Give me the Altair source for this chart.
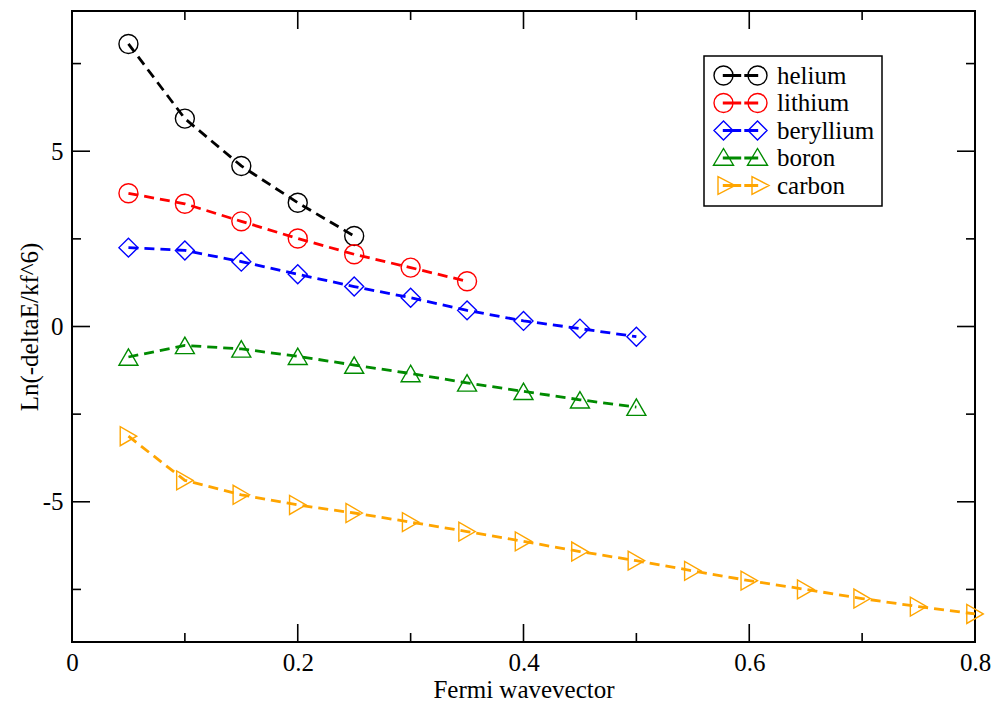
import altair as alt
import pandas as pd

# ---- data ----
series_names = ["helium", "lithium", "beryllium", "boron", "carbon"]
series_colors = ["#000000", "#ff0000", "#0000ff", "#008b00", "#ffa500"]
point_shapes = ["circle", "circle", "diamond", "triangle-up", "triangle-right"]

x_helium = [0.05, 0.10, 0.15, 0.20, 0.25]
y_helium = [8.06, 5.93, 4.58, 3.53, 2.58]

x_lithium = [0.05, 0.10, 0.15, 0.20, 0.25, 0.30, 0.35]
y_lithium = [3.80, 3.50, 3.00, 2.51, 2.06, 1.68, 1.29]

x_beryllium = [0.05, 0.10, 0.15, 0.20, 0.25, 0.30, 0.35, 0.40, 0.45, 0.50]
y_beryllium = [2.25, 2.17, 1.85, 1.49, 1.14, 0.82, 0.46, 0.16, -0.06, -0.29]

x_boron = [0.05, 0.10, 0.15, 0.20, 0.25, 0.30, 0.35, 0.40, 0.45, 0.50]
y_boron = [-0.87, -0.54, -0.64, -0.85, -1.10, -1.34, -1.61, -1.85, -2.09, -2.30]

x_carbon = [0.05, 0.10, 0.15, 0.20, 0.25, 0.30, 0.35, 0.40,
            0.45, 0.50, 0.55, 0.60, 0.65, 0.70, 0.75, 0.80]
y_carbon = [-3.13, -4.39, -4.80, -5.09, -5.32, -5.58, -5.85, -6.13,
            -6.42, -6.68, -6.97, -7.25, -7.50, -7.76, -7.99, -8.20]

x_major_ticks = [0, 0.2, 0.4, 0.6, 0.8]
x_minor_ticks = [0.1, 0.3, 0.5, 0.7]
y_major_ticks = [-5, 0, 5]
y_minor_ticks = [-7.5, -2.5, 2.5, 7.5]

x_title = "Fermi wavevector"
y_title = "Ln(-deltaE/kf^6)"

# ---- build table ----
rows = []
for name, xs, ys in [("helium", x_helium, y_helium), ("lithium", x_lithium, y_lithium),
                     ("beryllium", x_beryllium, y_beryllium), ("boron", x_boron, y_boron),
                     ("carbon", x_carbon, y_carbon)]:
    for xv, yv in zip(xs, ys):
        rows.append({"series": name, "x": xv, "y": yv})
df = pd.DataFrame(rows)

W, H = 903, 631
FONT = "Liberation Serif"

xscale = alt.Scale(domain=[0, 0.8], nice=False, zero=False)
yscale = alt.Scale(domain=[-9, 9], nice=False, zero=False)
cscale = alt.Scale(domain=series_names, range=series_colors)

x_axis = alt.Axis(title=x_title, values=x_major_ticks, ticks=False, tickSize=0,
                  domain=False, grid=False, labelExpr="'' + datum.value",
                  labelFlush=False,
                  labelFont=FONT, labelFontSize=25, labelPadding=28,
                  labelBaseline="alphabetic", labelColor="black",
                  titleFont=FONT, titleFontSize=25, titleFontWeight="normal",
                  titleY=55, titleBaseline="alphabetic", titleColor="black")
y_axis = alt.Axis(title=y_title, values=y_major_ticks, ticks=False, tickSize=0,
                  domain=False, grid=False, labelExpr="'' + datum.value",
                  labelFlush=False,
                  labelFont=FONT, labelFontSize=25, labelPadding=9,
                  labelColor="black",
                  titleFont=FONT, titleFontSize=25, titleFontWeight="normal",
                  titleX=-35, titleY=H / 2, titleBaseline="alphabetic",
                  titleColor="black")


# ---- legend symbol paths (marker - line - marker) ----
def circ(c, r=0.95):
    return f"M{c + r},0 A{r},{r} 0 1,0 {c - r},0 A{r},{r} 0 1,0 {c + r},0 Z "


def diam(c, r=0.95):
    return f"M{c},{-r} L{c + r},0 L{c},{r} L{c - r},0 Z "


def tri_up(c):
    return f"M{c},-0.95 L{c + 1.0},0.72 L{c - 1.0},0.72 Z "


def tri_right(c):
    return f"M{c - 0.55},-0.88 L{c + 1.15},0 L{c - 0.55},0.88 Z "


def seg():
    h = 0.07
    return (f"M-1.7,{-h} L0,{-h} L0,{h} L-1.7,{h} Z "
            f"M0.45,{-h} L1.7,{-h} L1.7,{h} L0.45,{h} Z")


legend_paths = [circ(-1.7) + circ(1.7) + seg(),
                circ(-1.7) + circ(1.7) + seg(),
                diam(-1.7) + diam(1.7) + seg(),
                tri_up(-1.7) + tri_up(1.7) + seg(),
                tri_right(-1.7) + tri_right(1.7) + seg()]

base = alt.Chart(df)

lines = base.mark_line(strokeDash=[10, 6], strokeWidth=2.8).encode(
    x=alt.X("x:Q", scale=xscale, axis=x_axis),
    y=alt.Y("y:Q", scale=yscale, axis=y_axis),
    color=alt.Color("series:N", scale=cscale, legend=None),
    detail="series:N",
    order="x:Q",
)

points = base.mark_point(filled=False, size=360, strokeWidth=1.4, opacity=1).encode(
    x=alt.X("x:Q", scale=xscale, axis=x_axis),
    y=alt.Y("y:Q", scale=yscale, axis=y_axis),
    color=alt.Color("series:N", scale=cscale, legend=None),
    shape=alt.Shape("series:N", scale=alt.Scale(domain=series_names, range=point_shapes),
                    legend=None),
)

legend_layer = base.transform_filter("false").mark_point(
    filled=False, strokeWidth=1.4, opacity=1).encode(
    x=alt.X("x:Q", scale=xscale, axis=x_axis),
    y=alt.Y("y:Q", scale=yscale, axis=y_axis),
    color=alt.Color("series:N", scale=cscale, legend=None),
    shape=alt.Shape("series:N", scale=alt.Scale(domain=series_names, range=legend_paths),
                    legend=alt.Legend(
                        title=None, orient="none", legendX=632, legendY=45,
                        symbolSize=400, symbolStrokeWidth=1.4,
                        symbolFillColor="transparent",
                        symbolStrokeColor=alt.ExprRef(expr="scale('color', datum.value)"))),
)

# inward tick marks on all four sides
xmaj = pd.DataFrame({"x": x_major_ticks})
xmin = pd.DataFrame({"x": x_minor_ticks})
ymaj = pd.DataFrame({"y": y_major_ticks})
ymin = pd.DataFrame({"y": y_minor_ticks})


def xticks(d, length):
    enc_x = alt.X("x:Q", scale=xscale, axis=x_axis)
    bottom = alt.Chart(d).mark_rule(color="black", strokeWidth=1.6).encode(
        x=enc_x, y=alt.value(H), y2=alt.value(H - length))
    top = alt.Chart(d).mark_rule(color="black", strokeWidth=1.6).encode(
        x=enc_x, y=alt.value(0), y2=alt.value(length))
    return [bottom, top]


def yticks(d, length):
    enc_y = alt.Y("y:Q", scale=yscale, axis=y_axis)
    left = alt.Chart(d).mark_rule(color="black", strokeWidth=1.6).encode(
        y=enc_y, x=alt.value(0), x2=alt.value(length))
    right = alt.Chart(d).mark_rule(color="black", strokeWidth=1.6).encode(
        y=enc_y, x=alt.value(W), x2=alt.value(W - length))
    return [left, right]


tick_layers = xticks(xmaj, 18) + xticks(xmin, 9) + yticks(ymaj, 18) + yticks(ymin, 9)

chart = alt.layer(lines, points, legend_layer, *tick_layers).resolve_scale(
    shape="independent"
).properties(
    width=W, height=H,
    autosize=alt.AutoSizeParams(type="none"),
    padding={"left": 72, "top": 11, "right": 20, "bottom": 60},
    background="white",
).configure_view(
    stroke="black", strokeWidth=2
).configure_legend(
    strokeColor="black", strokeWidth=1.5, padding=7, fillColor="white",
    labelFont=FONT, labelFontSize=25, labelColor="black",
    symbolOffset=17, labelOffset=24, rowPadding=1.5,
)

chart.save("out.html", embed_options={"renderer": "svg", "actions": False})
